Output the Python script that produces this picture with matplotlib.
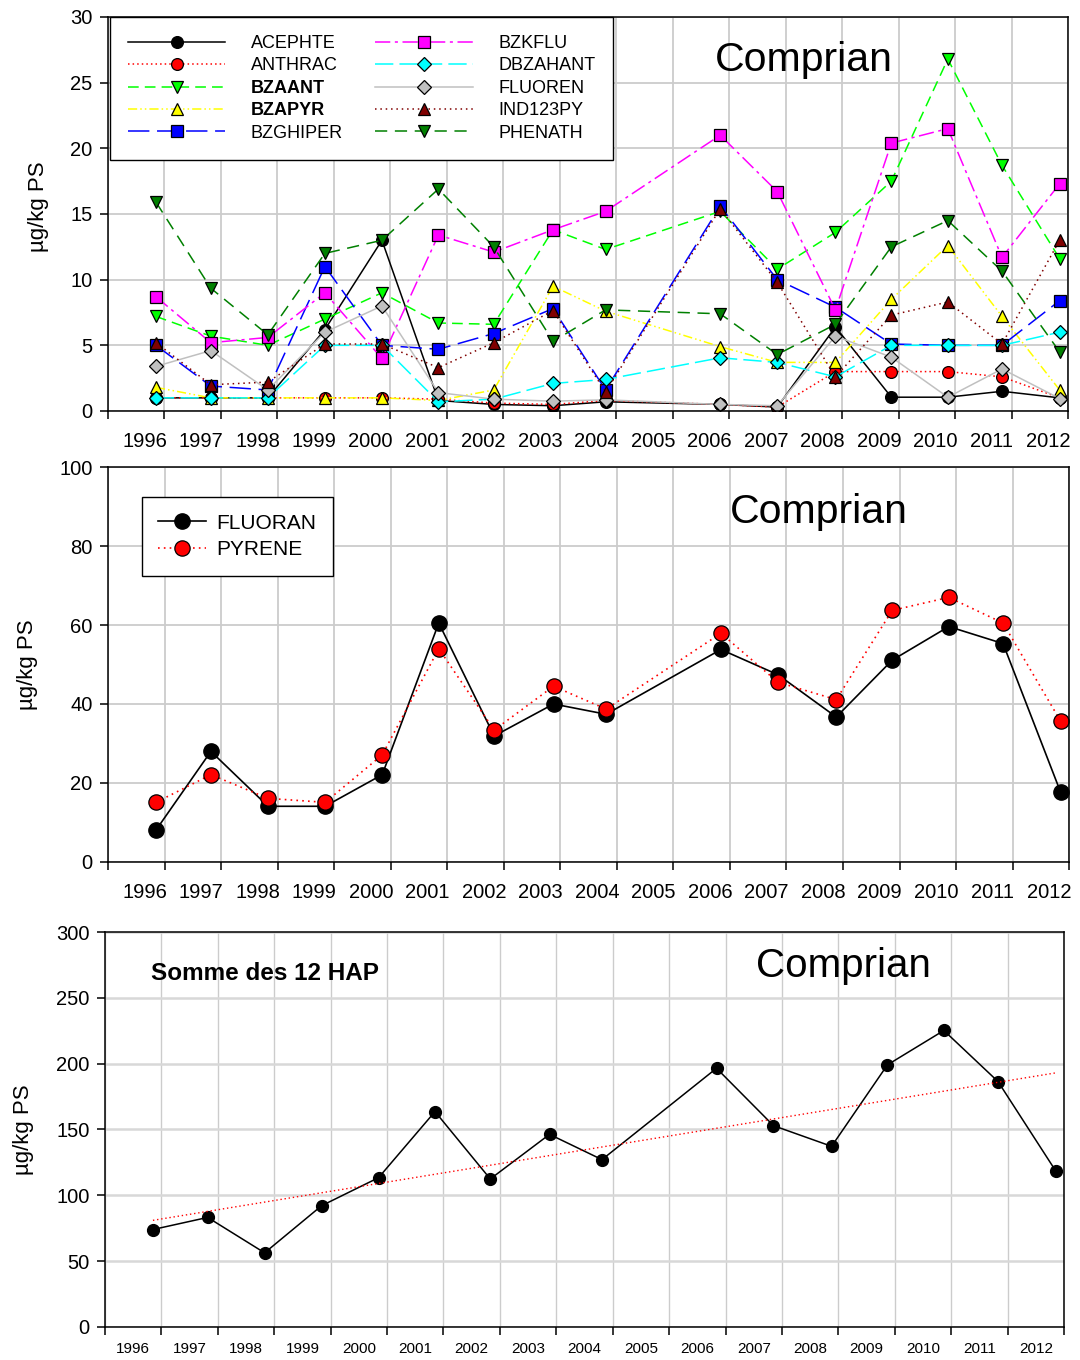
import matplotlib
matplotlib.use("Agg")
import matplotlib.pyplot as plt
import numpy as np

plt.rcParams['font.family'] = ['Liberation Sans', 'DejaVu Sans']

# dates des prelevements (annee decimale) - pas de donnee en 2005
dates = [1996.85, 1997.82, 1998.83, 1999.84, 2000.85, 2001.85, 2002.83, 2003.88,
         2004.81, 2006.84, 2007.85, 2008.88, 2009.87, 2010.87, 2011.83, 2012.85]
annees = list(range(1996, 2013))

# HAP individuels (ug/kg PS)
ACEPHTE = [1.0, 1.0, 1.0, 6.2, 13.0, 0.8, 0.5, 0.4, 0.7, 0.5, 0.3, 6.4, 1.05, 1.05, 1.5, 1.0]
ANTHRAC = [1.0, 1.0, 1.0, 1.0, 1.0, 0.9, 0.6, 0.5, 0.8, 0.5, 0.3, 3.0, 3.0, 3.0, 2.6, 1.0]
BZAANT = [7.2, 5.7, 5.0, 7.0, 9.0, 6.7, 6.6, 13.8, 12.3, 15.2, 10.8, 13.6, 17.5, 26.8, 18.7, 11.6]
BZAPYR = [1.8, 1.0, 1.0, 1.0, 1.0, 0.8, 1.6, 9.5, 7.6, 4.9, 3.7, 3.7, 8.5, 12.6, 7.2, 1.6]
BZGHIPER = [5.0, 1.9, 1.6, 11.0, 5.0, 4.7, 5.9, 7.8, 1.6, 15.6, 10.0, 7.9, 5.1, 5.0, 5.0, 8.4]
BZKFLU = [8.7, 5.2, 5.6, 9.0, 4.0, 13.4, 12.1, 13.8, 15.2, 21.0, 16.7, 7.7, 20.4, 21.5, 11.7, 17.3]
DBZAHANT = [1.0, 1.0, 1.0, 5.0, 5.0, 0.7, 0.9, 2.1, 2.4, 4.05, 3.7, 2.6, 5.0, 5.0, 5.0, 6.0]
FLUOREN = [3.4, 4.6, 1.6, 6.0, 8.0, 1.4, 0.9, 0.75, 0.85, 0.5, 0.4, 5.7, 4.1, 1.05, 3.2, 0.95]
IND123PY = [5.2, 2.0, 2.2, 5.1, 5.1, 3.3, 5.2, 7.65, 1.45, 15.4, 9.8, 2.6, 7.3, 8.3, 5.1, 13.0]
PHENATH = [15.9, 9.35, 5.8, 12.0, 13.0, 16.9, 12.5, 5.3, 7.7, 7.4, 4.3, 6.6, 12.5, 14.5, 10.65, 4.5]

FLUORAN = [8.1, 28.0, 14.1, 14.1, 22.1, 60.5, 31.9, 40.0, 37.4, 53.8, 47.4, 36.7, 51.1, 59.6, 55.3, 17.6]
PYRENE = [15.1, 22.1, 16.1, 15.1, 27.1, 54.0, 33.4, 44.5, 38.7, 57.9, 45.5, 41.1, 63.7, 67.0, 60.5, 35.6]

SOMME = [74.0, 83.2, 56.3, 92.1, 113.4, 163.6, 112.4, 146.3, 127.1, 196.5, 152.9, 137.2,
         199.1, 225.2, 186.4, 118.7]

# style des series: (nom, valeurs, couleur, style trait, marqueur, taille)
series = [
    ("ACEPHTE", ACEPHTE, "black", "-", "o", 8.5),
    ("ANTHRAC", ANTHRAC, "red", (0, (1, 2)), "o", 8.5),
    ("BZAANT", BZAANT, "#00FF00", (0, (7, 4)), "v", 9),
    ("BZAPYR", BZAPYR, "#FFFF00", (0, (6, 2, 1, 2, 1, 2)), "^", 9),
    ("BZGHIPER", BZGHIPER, "blue", (0, (14, 5)), "s", 8),
    ("BZKFLU", BZKFLU, "magenta", (0, (10, 3, 2, 3)), "s", 8),
    ("DBZAHANT", DBZAHANT, "cyan", (0, (12, 4)), "D", 7),
    ("FLUOREN", FLUOREN, "#C0C0C0", "-", "D", 7),
    ("IND123PY", IND123PY, "#800000", (0, (1, 2.5)), "^", 9),
    ("PHENATH", PHENATH, "#008000", (0, (8, 5)), "v", 9),
]


def habille(ax, ymax, ystep, lab_off, xt_size, xpad):
    ax.set_xlim(1996, 2013)
    ax.set_ylim(0, ymax)
    ax.set_xticks(annees + [2013])
    ax.set_xticklabels([])
    ax.set_xticks([a + lab_off for a in annees], minor=True)
    ax.set_xticklabels([str(a) for a in annees], minor=True, fontsize=xt_size)
    ax.set_yticks(np.arange(0, ymax + 1, ystep))
    ax.tick_params(axis='x', which='major', direction='out', length=6, width=1.1)
    ax.tick_params(axis='x', which='minor', length=0, pad=xpad)
    ax.tick_params(axis='y', direction='out', length=6, width=1.1, labelsize=14.5, pad=5)
    ax.grid(True, which='major', color='#CCCCCC', lw=1.3)
    ax.set_axisbelow(True)
    for s in ax.spines.values():
        s.set_linewidth(1.1)


fig = plt.figure(figsize=(10.8, 13.6), dpi=100)

# ---- graphe 1 : HAP individuels
ax1 = fig.add_axes([0.1, 0.6978, 0.889, 0.2897])
for nom, vals, coul, ls, mk, ms in series:
    ax1.plot(dates, vals, color=coul, ls=ls, lw=1.1, marker=mk, ms=ms,
             mfc=coul, mec='black', mew=0.9, label=nom)
habille(ax1, 30, 5, 0.65, 14.5, 15)
ax1.set_ylabel("µg/kg PS", fontsize=16)
ax1.yaxis.set_label_coords(-0.0615, 0.518)
ax1.text(0.725, 0.89, "Comprian", transform=ax1.transAxes, fontsize=29.5,
         ha='center', va='center')
leg = ax1.legend(loc='upper left', bbox_to_anchor=(0.002, 1.0), borderaxespad=0,
                 ncol=2, fontsize=13, handlelength=5.4, handletextpad=1.4,
                 columnspacing=1.8, labelspacing=0.3, borderpad=1.0,
                 fancybox=False, framealpha=1, edgecolor='black')
leg.get_frame().set_linewidth(1.0)
for t in leg.get_texts():
    if t.get_text() in ("BZAANT", "BZAPYR"):
        t.set_fontweight('bold')

# ---- graphe 2 : fluoranthene et pyrene
ax2 = fig.add_axes([0.1, 0.3662, 0.89, 0.2904])
ax2.plot(dates, FLUORAN, color='black', ls='-', lw=1.2, marker='o', ms=11,
         mfc='black', mec='black', label="FLUORAN")
ax2.plot(dates, PYRENE, color='red', ls=(0, (1, 2.5)), lw=1.2, marker='o', ms=11,
         mfc='red', mec='black', mew=0.9, label="PYRENE")
habille(ax2, 100, 20, 0.65, 14.5, 15)
ax2.set_ylabel("µg/kg PS", fontsize=16)
ax2.yaxis.set_label_coords(-0.0725, 0.5)
ax2.text(0.739, 0.885, "Comprian", transform=ax2.transAxes, fontsize=29.5,
         ha='center', va='center')
leg2 = ax2.legend(loc='upper left', bbox_to_anchor=(0.035, 0.924), borderaxespad=0,
                  fontsize=15, handlelength=2.3, handletextpad=0.5,
                  labelspacing=0.35, borderpad=0.8, fancybox=False, framealpha=1,
                  edgecolor='black')
leg2.get_frame().set_linewidth(1.0)

# ---- graphe 3 : somme des 12 HAP
ax3 = fig.add_axes([0.0972, 0.0243, 0.888, 0.2904])
ax3.plot(dates, SOMME, color='black', lw=1.1, marker='o', ms=8.5, mfc='black', mec='black')
pente, orig = np.polyfit(dates, SOMME, 1)
xt = np.array([dates[0], dates[-1]])
ax3.plot(xt, pente * xt + orig, color='red', ls=(0, (1, 2)), lw=1.0)
habille(ax3, 300, 50, 0.5, 11, 11)
ax3.grid(False)
ax3.grid(True, axis='x', which='major', color='#CCCCCC', lw=1.0)
ax3.grid(True, axis='y', which='major', color='#D8D8D8', lw=1.8)
ax3.set_ylabel("µg/kg PS", fontsize=16)
ax3.yaxis.set_label_coords(-0.0745, 0.5)
ax3.text(0.77, 0.914, "Comprian", transform=ax3.transAxes, fontsize=29,
         ha='center', va='center')
ax3.text(0.048, 0.896, "Somme des 12 HAP", transform=ax3.transAxes, fontsize=17.5,
         fontweight='bold', ha='left', va='center')

fig.savefig("out.png", dpi=100)
